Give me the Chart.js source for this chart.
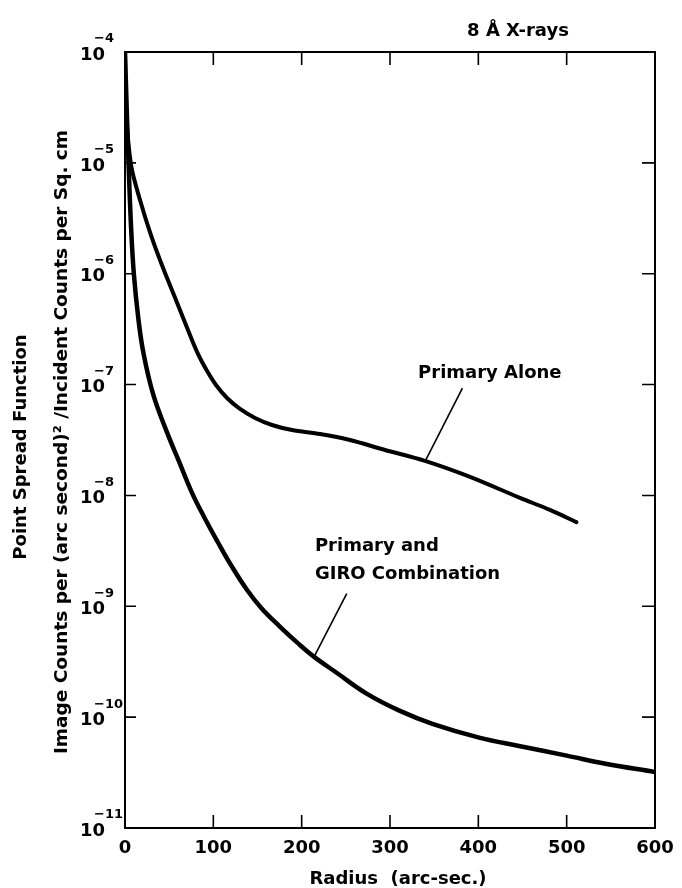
<!DOCTYPE html>
<html>
<head>
<meta charset="utf-8">
<title>Point Spread Function, 8 Å X-rays</title>
<style>
  html, body { margin: 0; padding: 0; background: #ffffff; }
  #wrap { width: 682px; height: 888px; position: relative; }
  canvas { display: block; }
</style>
<script src="https://cdn.jsdelivr.net/npm/chart.js@4.4.1/dist/chart.umd.min.js"></script>
</head>
<body>
<div id="wrap"><canvas id="psf" width="682" height="888"></canvas></div>
<script>
// Radius (arc-sec) and PSF for the primary mirror alone
const radiusPrimary = [0, 1.1, 6.8, 17, 29.4, 43, 57.7, 71.3, 82.6, 92.8, 103, 115.5, 130.2, 147.2, 166.4, 189.1, 220.8, 254.7, 294.3, 339.6, 390.6, 447.2, 481.1, 511];
const psfPrimary = [1.0e-4, 3.0e-5, 9.6e-6, 4.62e-6, 2.23e-6, 1.13e-6, 5.8e-7, 3.1e-7, 1.89e-7, 1.33e-7, 9.9e-8, 7.57e-8, 6.03e-8, 5.0e-8, 4.32e-8, 3.89e-8, 3.58e-8, 3.16e-8, 2.57e-8, 2.05e-8, 1.47e-8, 9.5e-9, 7.4e-9, 5.75e-9];

// Radius (arc-sec) and PSF for the primary + GIRO combination
const radiusCombined = [0, 1.5, 4, 7, 10, 15, 21, 32, 47, 61, 76, 90, 105, 120, 138, 155, 175, 195, 213, 240, 274, 310, 348, 402, 446, 500, 544, 600];
const psfCombined = [1.0e-4, 4.0e-5, 1.0e-5, 2.5e-6, 1.0e-6, 4.0e-7, 1.9e-7, 8.1e-8, 3.8e-8, 2.04e-8, 1.05e-8, 6.3e-9, 3.8e-9, 2.35e-9, 1.41e-9, 9.5e-10, 6.6e-10, 4.7e-10, 3.55e-10, 2.5e-10, 1.62e-10, 1.15e-10, 8.7e-11, 6.5e-11, 5.5e-11, 4.5e-11, 3.8e-11, 3.2e-11];

// Axis ticks
const xTickValues = [0, 100, 200, 300, 400, 500, 600];
const yTickExponents = [-4, -5, -6, -7, -8, -9, -10, -11];

// Texts
const chartTitle = '8 Å X-rays';
const xAxisTitle = 'Radius  (arc-sec.)';
const yAxisTitleLines = ['Point Spread Function', 'Image Counts per (arc second)² /Incident Counts per Sq. cm'];
const labelPrimary = 'Primary Alone';
const labelCombined = ['Primary and', 'GIRO Combination'];

// Callout anchors in data units: [radius, psf]
const primaryLabelAt = [413, 1.26e-7];
const primaryLeader = [[382, 9.3e-8], [340, 2.05e-8]];
const combinedLabelAt = [215, 3.5e-9];
const combinedLeader = [[251, 1.3e-9], [214, 3.5e-10]];

const FONT = "'DejaVu Sans', 'Liberation Sans', sans-serif";
const INK = '#000000';

const toPoints = (xs, ys) => xs.map((x, i) => ({ x: x, y: ys[i] }));

const decorations = {
  id: 'decorations',
  afterDraw(chart) {
    const ctx = chart.ctx;
    const area = chart.chartArea;
    const sx = chart.scales.x;
    const sy = chart.scales.y;
    ctx.save();
    ctx.strokeStyle = INK;
    ctx.fillStyle = INK;

    // frame
    ctx.lineWidth = 2;
    ctx.strokeRect(area.left, area.top, area.right - area.left, area.bottom - area.top);

    // inward tick marks
    ctx.lineWidth = 1.6;
    ctx.beginPath();
    xTickValues.slice(1, -1).forEach(v => {
      const px = sx.getPixelForValue(v);
      ctx.moveTo(px, area.bottom); ctx.lineTo(px, area.bottom - 13);
      ctx.moveTo(px, area.top); ctx.lineTo(px, area.top + 13);
    });
    yTickExponents.slice(1, -1).forEach(e => {
      const py = sy.getPixelForValue(Math.pow(10, e));
      ctx.moveTo(area.left, py); ctx.lineTo(area.left + 11, py);
      ctx.moveTo(area.right, py); ctx.lineTo(area.right - 13, py);
    });
    ctx.stroke();

    // x tick labels
    ctx.font = 'bold 18px ' + FONT;
    ctx.textAlign = 'center';
    ctx.textBaseline = 'middle';
    xTickValues.forEach(v => {
      ctx.fillText(String(v), sx.getPixelForValue(v), area.bottom + 20);
    });

    // y tick labels: 10 with a raised exponent
    yTickExponents.forEach(e => {
      const py = sy.getPixelForValue(Math.pow(10, e));
      ctx.font = 'bold 18px ' + FONT;
      ctx.textAlign = 'right';
      ctx.textBaseline = 'middle';
      ctx.fillText('10', area.left - 20, py + 3);
      ctx.font = 'bold 13px ' + FONT;
      ctx.textAlign = 'left';
      ctx.fillText('\u2212' + String(-e), area.left - 31, py - 13);
    });

    // chart title
    ctx.font = 'bold 18px ' + FONT;
    ctx.textAlign = 'center';
    ctx.textBaseline = 'alphabetic';
    ctx.fillText(chartTitle, area.right - 137, area.top - 16);

    // x axis title
    ctx.font = 'bold 18px ' + FONT;
    ctx.textAlign = 'center';
    ctx.textBaseline = 'middle';
    ctx.fillText(xAxisTitle, (area.left + area.right) / 2 + 8, area.bottom + 51);

    // y axis titles (two rotated lines)
    const yMid = (area.top + area.bottom) / 2;
    [[21, yMid + 7, 18], [62, yMid + 2, 18.5]].forEach((pos, i) => {
      ctx.save();
      ctx.font = 'bold ' + pos[2] + 'px ' + FONT;
      ctx.translate(pos[0], pos[1]);
      ctx.rotate(-Math.PI / 2);
      ctx.textAlign = 'center';
      ctx.textBaseline = 'middle';
      ctx.fillText(yAxisTitleLines[i], 0, 0);
      ctx.restore();
    });

    // curve callouts
    ctx.font = 'bold 18px ' + FONT;
    ctx.textAlign = 'center';
    ctx.textBaseline = 'middle';
    ctx.fillText(labelPrimary, sx.getPixelForValue(primaryLabelAt[0]), sy.getPixelForValue(primaryLabelAt[1]));
    ctx.textAlign = 'left';
    const cx = sx.getPixelForValue(combinedLabelAt[0]);
    const cy = sy.getPixelForValue(combinedLabelAt[1]);
    ctx.fillText(labelCombined[0], cx, cy);
    ctx.fillText(labelCombined[1], cx, cy + 28);

    ctx.lineWidth = 1.6;
    [primaryLeader, combinedLeader].forEach(seg => {
      ctx.beginPath();
      ctx.moveTo(sx.getPixelForValue(seg[0][0]), sy.getPixelForValue(seg[0][1]));
      ctx.lineTo(sx.getPixelForValue(seg[1][0]), sy.getPixelForValue(seg[1][1]));
      ctx.stroke();
    });
    ctx.restore();
  }
};

new Chart(document.getElementById('psf'), {
  type: 'line',
  data: {
    datasets: [
      {
        label: labelPrimary,
        data: toPoints(radiusPrimary, psfPrimary),
        borderColor: INK,
        borderWidth: 4,
        pointRadius: 0,
        fill: false,
        tension: 0.3,
        borderCapStyle: 'round',
        borderJoinStyle: 'round'
      },
      {
        label: labelCombined.join(' '),
        data: toPoints(radiusCombined, psfCombined),
        borderColor: INK,
        borderWidth: 4.5,
        pointRadius: 0,
        fill: false,
        tension: 0.4,
        borderCapStyle: 'round',
        borderJoinStyle: 'round'
      }
    ]
  },
  options: {
    responsive: false,
    devicePixelRatio: 1,
    animation: false,
    events: [],
    layout: { padding: { left: 125, right: 27, top: 52, bottom: 60 } },
    plugins: { legend: { display: false }, tooltip: { enabled: false }, title: { display: false } },
    scales: {
      x: { type: 'linear', min: 0, max: 600, display: false },
      y: { type: 'logarithmic', min: 1e-11, max: 1e-4, display: false }
    }
  },
  plugins: [decorations]
});
</script>
</body>
</html>
